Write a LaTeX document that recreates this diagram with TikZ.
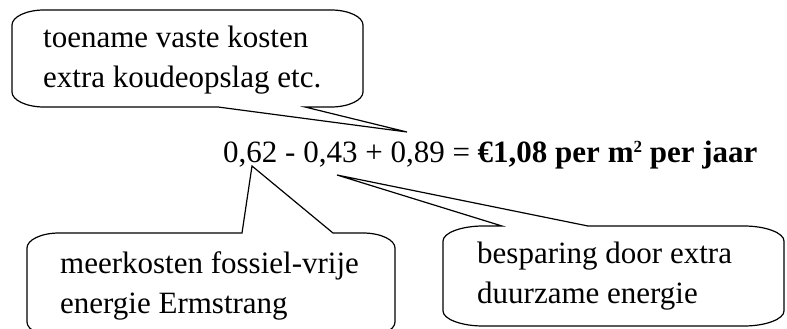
\documentclass[tikz,border=0pt]{standalone}
\usepackage{fontspec}
\setmainfont{Liberation Serif}
\usepackage{tikz}
\usetikzlibrary{positioning}

\tikzset{
  bubble/.style={draw, line width=1.2pt},
  bubbletext/.style={anchor=base west, inner sep=0pt, font=\fontsize{31}{40}\selectfont},
}

\begin{document}
\begin{tikzpicture}[x=1pt,y=-1pt]
    \useasboundingbox (0,0) rectangle (787,329);
    % the sum
    \node[bubbletext] (sum) at (223,162) {0,62 - 0,43 + 0,89 = \textbf{€1,08 per m\raisebox{10pt}{\fontsize{17}{17}\selectfont 2} per jaar}};
    \coordinate (tipA) at (407,132);
    \coordinate (tipB) at (252,166);
    \coordinate (tipC) at (337,175);
    % top callout
    \draw[bubble] (12,25) .. controls +(0,-8) and +(-18,0) .. (44,10)
        -- (331,10) .. controls +(18,0) and +(0,-8) .. (363,25)
        -- (363,92) .. controls +(0,8) and +(18,0) .. (331,107)
        -- (305,107) -- (tipA) -- (218,107)
        -- (44,107) .. controls +(-18,0) and +(0,8) .. (12,92) -- cycle;
    \node[bubbletext] (fixed) at (43,48) {\begin{tabular}[t]{@{}l@{}}toename vaste kosten\\ extra koudeopslag etc.\end{tabular}};
    % bottom left callout
    \draw[bubble] (27,248) .. controls +(0,-8) and +(-18,0) .. (59,233)
        -- (242,233) -- (tipB) -- (333,233)
        -- (363,233) .. controls +(18,0) and +(0,-8) .. (395,248)
        -- (395,322) .. controls +(0,8) and +(18,0) .. (363,337)
        -- (59,337) .. controls +(-18,0) and +(0,8) .. (27,322) -- cycle;
    \node[bubbletext] (extra) at (60,273) {\begin{tabular}[t]{@{}l@{}}meerkosten fossiel-vrije\\ energie Ermstrang\end{tabular}};
    % bottom right callout
    \draw[bubble] (443,241) .. controls +(0,-8) and +(-22,0) .. (483,226)
        -- (502,226) -- (tipC) -- (588,226)
        -- (744,226) .. controls +(22,0) and +(0,-8) .. (784,241)
        -- (784,311) .. controls +(0,8) and +(22,0) .. (744,326)
        -- (483,326) .. controls +(-22,0) and +(0,8) .. (443,311) -- cycle;
    \node[bubbletext] (saving) at (477,263) {\begin{tabular}[t]{@{}l@{}}besparing door extra\\ duurzame energie\end{tabular}};
\end{tikzpicture}
\end{document}
